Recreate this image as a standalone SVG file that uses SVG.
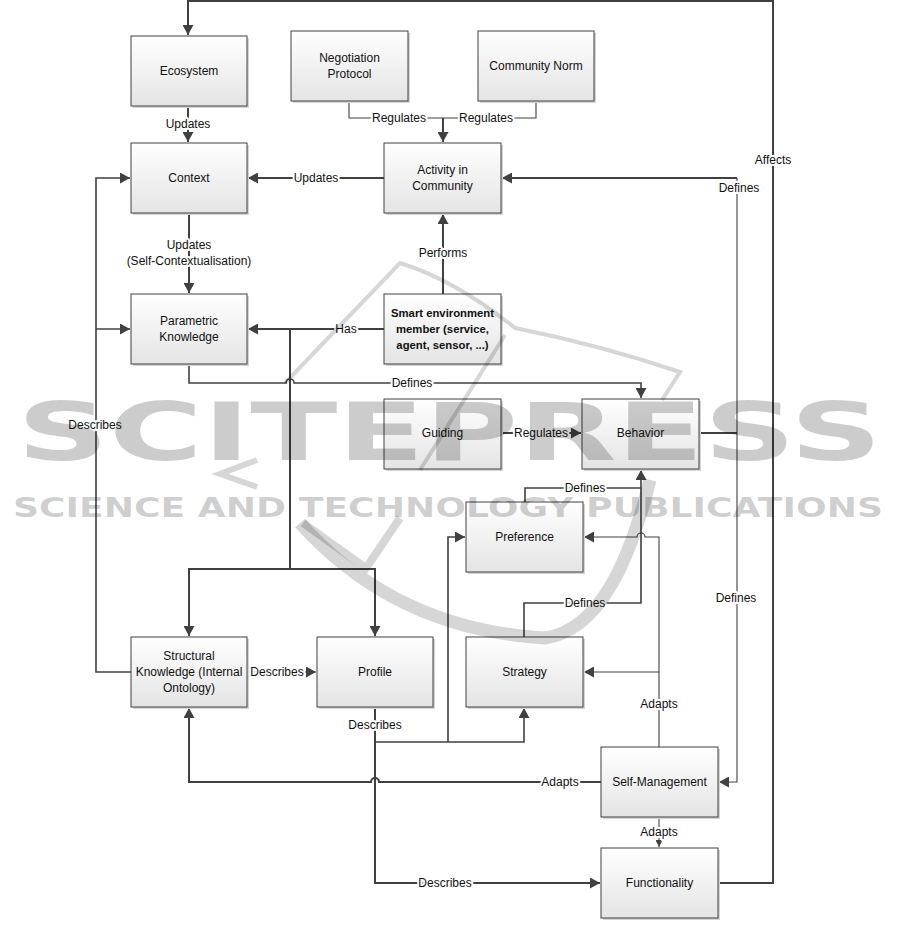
<svg xmlns="http://www.w3.org/2000/svg" width="901" height="933" viewBox="0 0 901 933">
<defs>
<linearGradient id="boxg" x1="0" y1="0" x2="0" y2="1">
<stop offset="0" stop-color="#ffffff"/>
<stop offset="1" stop-color="#e4e4e4"/>
</linearGradient>
<marker id="ah" viewBox="0 0 10 11" refX="10" refY="5.5" markerWidth="10" markerHeight="11" markerUnits="userSpaceOnUse" orient="auto">
<path d="M0,0 L10,5.5 L0,11 z" fill="#404040"/>
</marker>
<marker id="ahs" viewBox="0 0 7 7" refX="7" refY="3.5" markerWidth="7" markerHeight="7" markerUnits="userSpaceOnUse" orient="auto">
<path d="M0,0 L7,3.5 L0,7 z" fill="#404040"/>
</marker>
<style>
.box rect.b{fill:url(#boxg);stroke:#404040;stroke-width:1}
.box rect.s{fill:#d4d4d4;stroke:none}
.box text{font-family:"Liberation Sans",Arial,sans-serif;font-size:12px;fill:#111;text-anchor:middle}
.box text.bold{font-weight:bold;font-size:11.3px}
.thick{stroke:#404040;stroke-width:2;fill:none}
.mid{stroke:#404040;stroke-width:1.6;fill:none}
.thin{stroke:#404040;stroke-width:1.1;fill:none}
.lbl{font-family:"Liberation Sans",Arial,sans-serif;font-size:12px;fill:#111;text-anchor:middle;paint-order:stroke;stroke:#fff;stroke-width:4px;stroke-linejoin:round}
.wm{font-family:"DejaVu Sans",sans-serif;font-weight:bold;fill:#000;fill-opacity:0.2}
.wms{stroke:#000;stroke-opacity:0.16;fill:none;stroke-linecap:butt}
</style>
</defs>
<rect width="901" height="933" fill="#fff"/>

<g id="connectors">
<!-- Affects -->
<polyline class="thick" points="718,883 773,883 773,1 188,1 188,35" marker-end="url(#ah)"/>
<text class="lbl" x="773" y="164">Affects</text>
<!-- Ecosystem -> Context -->
<line class="thick" x1="188" y1="107" x2="188" y2="142" marker-end="url(#ah)"/>
<text class="lbl" x="188" y="128">Updates</text>
<!-- Regulates from Negotiation and Community Norm -->
<polyline class="thin" points="349,101 349,118 536,118 536,101"/>
<line class="thick" x1="443" y1="118" x2="443" y2="142" marker-end="url(#ah)"/>
<text class="lbl" x="399" y="122">Regulates</text>
<text class="lbl" x="486" y="122">Regulates</text>
<!-- Activity -> Context -->
<line class="thick" x1="384" y1="178" x2="248" y2="178" marker-end="url(#ah)"/>
<text class="lbl" x="316" y="182">Updates</text>
<!-- Context -> Parametric -->
<line class="thick" x1="189" y1="213" x2="189" y2="293" marker-end="url(#ah)"/>
<text class="lbl" x="189" y="249">Updates</text>
<text class="lbl" x="189" y="265">(Self-Contextualisation)</text>
<!-- Smart -> Activity -->
<line class="thick" x1="443" y1="294" x2="443" y2="214" marker-end="url(#ah)"/>
<text class="lbl" x="443" y="257">Performs</text>
<!-- Has -->
<line class="thick" x1="384" y1="329" x2="248" y2="329" marker-end="url(#ah)"/>
<polyline class="thick" points="290,329 290,569"/>
<polyline class="thick" points="189,636 189,569 375,569 375,636"/>
<line class="thick" x1="189" y1="590" x2="189" y2="636" marker-end="url(#ah)"/>
<line class="thick" x1="375" y1="590" x2="375" y2="636" marker-end="url(#ah)"/>
<text class="lbl" x="346" y="333">Has</text>
<!-- Describes (Structural -> Context / Parametric) -->
<polyline class="mid" points="131,672 96,672 96,178 130,178" marker-end="url(#ah)"/>
<line class="mid" x1="96" y1="329" x2="130" y2="329" marker-end="url(#ah)"/>
<text class="lbl" x="95" y="429">Describes</text>
<!-- Parametric -> Behavior -->
<path class="mid" d="M189,364 V383 H286 A4,4 0 0 1 294,383 H641 V398" marker-end="url(#ah)"/>
<text class="lbl" x="412" y="387">Defines</text>
<!-- Guiding -> Behavior -->
<line class="thick" x1="501" y1="433" x2="581" y2="433" marker-end="url(#ah)"/>
<text class="lbl" x="541" y="437">Regulates</text>
<!-- Behavior -> Activity / Self-Management -->
<line class="thick" x1="699" y1="433" x2="737" y2="433"/>
<polyline class="thin" points="737,178 737,782 719,782" marker-end="url(#ah)"/>
<line class="thick" x1="737" y1="178" x2="502" y2="178" marker-end="url(#ah)"/>
<text class="lbl" x="739" y="192">Defines</text>
<text class="lbl" x="736" y="602">Defines</text>
<!-- Preference / Strategy -> Behavior -->
<polyline class="mid" points="525,502 525,488 641,488"/>
<polyline class="mid" points="524,637 524,603 641,603 641,470" marker-end="url(#ah)"/>
<text class="lbl" x="585" y="492">Defines</text>
<text class="lbl" x="585" y="607">Defines</text>
<!-- Self-Management adapts Preference / Strategy -->
<path class="thin" d="M659,747 V537 H645 A4,4 0 0 0 637,537 H584" marker-end="url(#ah)"/>
<line class="thin" x1="659" y1="672" x2="584" y2="672" marker-end="url(#ah)"/>
<text class="lbl" x="659" y="708">Adapts</text>
<!-- Profile describes -->
<polyline class="thick" points="375,707 375,883 600,883" marker-end="url(#ah)"/>
<text class="lbl" x="375" y="729">Describes</text>
<text class="lbl" x="445" y="887">Describes</text>
<polyline class="mid" points="375,742 524,742 524,708" marker-end="url(#ah)"/>
<polyline class="mid" points="448,742 448,537 465,537" marker-end="url(#ah)"/>
<!-- Self-Management -> Structural -->
<path class="thick" d="M601,782 H379 A4,4 0 0 0 371,782 H189 V708" marker-end="url(#ah)"/>
<text class="lbl" x="560" y="786">Adapts</text>
<!-- Structural -> Profile -->
<line class="thin" x1="247" y1="672" x2="316" y2="672" marker-end="url(#ah)"/>
<text class="lbl" x="277" y="676">Describes</text>
<!-- Self-Management -> Functionality -->
<line class="thin" x1="659" y1="817" x2="659" y2="847" marker-end="url(#ahs)"/>
<text class="lbl" x="659" y="836">Adapts</text>
</g>

<g id="ecosystem" class="box"><rect class="s" x="133" y="38" width="116" height="70"/><rect class="b" x="131" y="36" width="116" height="70"/><text x="189" y="75">Ecosystem</text></g>
<g id="negotiation-protocol" class="box"><rect class="s" x="293" y="33" width="117" height="70"/><rect class="b" x="291" y="31" width="117" height="70"/><text x="349.5" y="62">Negotiation</text><text x="349.5" y="78">Protocol</text></g>
<g id="community-norm" class="box"><rect class="s" x="480" y="33" width="116" height="70"/><rect class="b" x="478" y="31" width="116" height="70"/><text x="536" y="70">Community Norm</text></g>
<g id="context" class="box"><rect class="s" x="133" y="145" width="116" height="70"/><rect class="b" x="131" y="143" width="116" height="70"/><text x="189" y="182">Context</text></g>
<g id="activity-in-community" class="box"><rect class="s" x="386" y="145" width="117" height="70"/><rect class="b" x="384" y="143" width="117" height="70"/><text x="442.5" y="174">Activity in</text><text x="442.5" y="190">Community</text></g>
<g id="parametric-knowledge" class="box"><rect class="s" x="133" y="296" width="116" height="70"/><rect class="b" x="131" y="294" width="116" height="70"/><text x="189" y="325">Parametric</text><text x="189" y="341">Knowledge</text></g>
<g id="smart-environment-member" class="box"><rect class="s" x="386" y="296" width="117" height="70"/><rect class="b" x="384" y="294" width="117" height="70"/><text class="bold" x="442.5" y="317">Smart environment</text><text class="bold" x="442.5" y="333">member (service,</text><text class="bold" x="442.5" y="349">agent, sensor, ...)</text></g>
<g id="guiding" class="box"><rect class="s" x="386" y="401" width="117" height="70"/><rect class="b" x="384" y="399" width="117" height="70"/><text x="442.5" y="437">Guiding</text></g>
<g id="behavior" class="box"><rect class="s" x="584" y="401" width="117" height="70"/><rect class="b" x="582" y="399" width="117" height="70"/><text x="640.5" y="437">Behavior</text></g>
<g id="preference" class="box"><rect class="s" x="468" y="504" width="117" height="70"/><rect class="b" x="466" y="502" width="117" height="70"/><text x="524.5" y="541">Preference</text></g>
<g id="strategy" class="box"><rect class="s" x="468" y="639" width="117" height="70"/><rect class="b" x="466" y="637" width="117" height="70"/><text x="524.5" y="676">Strategy</text></g>
<g id="structural-knowledge" class="box"><rect class="s" x="133" y="639" width="116" height="70"/><rect class="b" x="131" y="637" width="116" height="70"/><text x="189" y="660">Structural</text><text x="189" y="676">Knowledge (Internal</text><text x="189" y="692">Ontology)</text></g>
<g id="profile" class="box"><rect class="s" x="319" y="639" width="116" height="70"/><rect class="b" x="317" y="637" width="116" height="70"/><text x="375" y="676">Profile</text></g>
<g id="self-management" class="box"><rect class="s" x="603" y="749" width="117" height="70"/><rect class="b" x="601" y="747" width="117" height="70"/><text x="659.5" y="786">Self-Management</text></g>
<g id="functionality" class="box"><rect class="s" x="603" y="850" width="117" height="70"/><rect class="b" x="601" y="848" width="117" height="70"/><text x="659.5" y="887">Functionality</text></g>

<g id="watermark">
<path class="wms" stroke-width="4" d="M285,383 L400,263 Q455,280 515,328 Q600,345 680,372 L662,400"/>
<path class="wms" stroke-width="4" d="M505,335 L420,470"/>
<path class="wms" stroke-width="6" d="M257,460 L220,474 L257,487"/>
<path class="wms" stroke-width="8" d="M303,523 L366,568 L400,518"/>
<path class="wms" stroke-width="13" d="M300,523 C360,590 440,632 545,638 C600,630 630,560 650,480"/>
<text class="wm" x="17" y="460" font-size="80" textLength="865" lengthAdjust="spacingAndGlyphs">SCITEPRESS</text>
<text class="wm" x="13" y="517" font-size="26" textLength="870" lengthAdjust="spacingAndGlyphs">SCIENCE AND TECHNOLOGY PUBLICATIONS</text>
</g>
</svg>
